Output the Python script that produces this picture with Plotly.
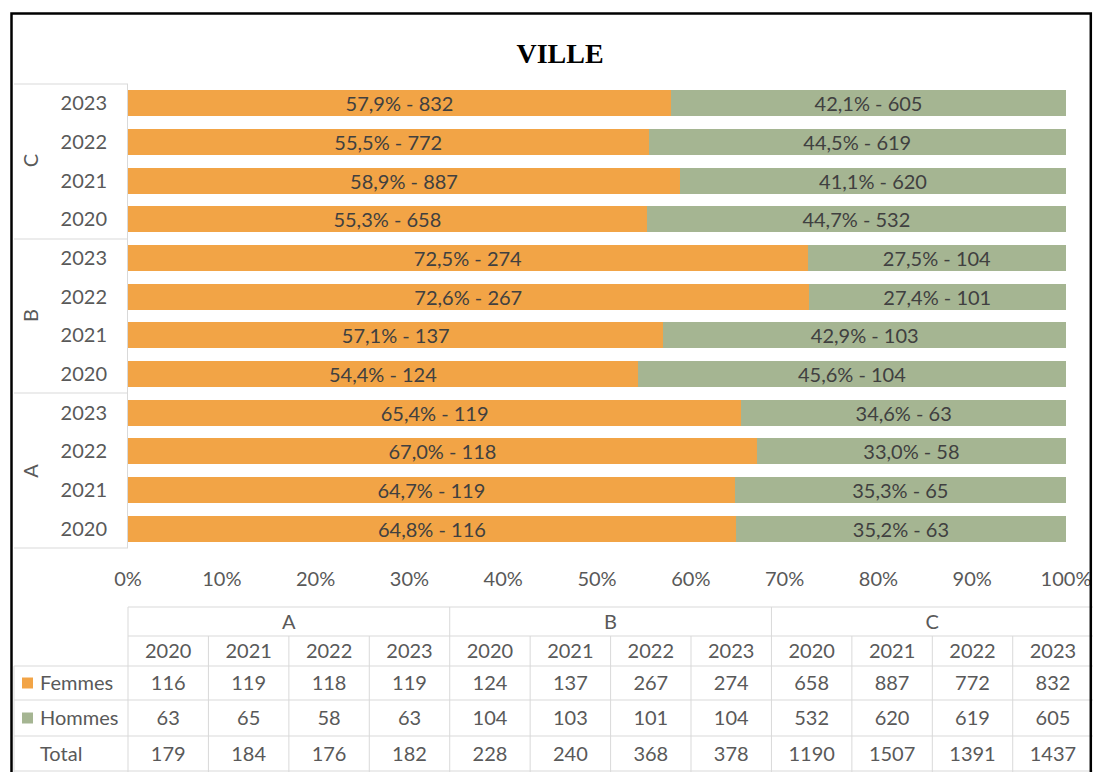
import plotly.graph_objects as go

# ---------------- data ----------------
title_text = "VILLE"
groups = ["A", "B", "C"]
years = ["2020", "2021", "2022", "2023"]
series_names = ["Femmes", "Hommes"]
femmes = [116, 119, 118, 119, 124, 137, 267, 274, 658, 887, 772, 832]
hommes = [63, 65, 58, 63, 104, 103, 101, 104, 532, 620, 619, 605]
total_label = "Total"

# ---------------- style / layout constants ----------------
W, H = 1093, 772
ORANGE = "#F2A446"
GREEN = "#A5B592"
TXT = "#595959"
LBL = "#404040"
GRID = "#D9D9D9"
FONT = "Lato"
FS = 20

def px(x):
    return x / W

def py(y):
    return 1 - y / H

PLOT_L, PLOT_R, PLOT_T, PLOT_B = 128, 1066, 84, 548
LABEL_L = 14
COL_W = 80.43           # table column width in px
TAB_L = 12              # left edge of table subplot (px)
ROW_EDGES = [607, 636, 666, 700, 736, 772]
TEXT_SHIFT = 2          # small vertical nudge of table text (px)

totals = [f + h for f, h in zip(femmes, hommes)]
pf = [f / t for f, t in zip(femmes, totals)]
ph = [h / t for h, t in zip(hommes, totals)]


def lab(p, v):
    return f"{p * 100:.1f}".replace(".", ",") + "% - " + str(v)


n = len(femmes)
ypos = list(range(n))
cat_years = [y for g in groups for y in years]

fig = go.Figure()
for name, vals, shares, col in [("Femmes", femmes, pf, ORANGE), ("Hommes", hommes, ph, GREEN)]:
    fig.add_trace(go.Bar(
        y=ypos, x=shares, orientation="h", name=name,
        marker=dict(color=col, line=dict(width=0)),
        text=[lab(p, v) for p, v in zip(shares, vals)],
        textposition="inside", insidetextanchor="middle", constraintext="none",
        textfont=dict(family=FONT, size=FS, color=LBL),
        hoverinfo="skip", showlegend=False,
        xaxis="x", yaxis="y",
    ))

# ---------------- table (second subplot, column units) ----------------
u_left = (TAB_L - PLOT_L) / COL_W          # left end of x2 range
u_right = (W - PLOT_L) / COL_W
u_label = (LABEL_L - PLOT_L) / COL_W
n_cols = len(groups) * len(years)
row_c = [(ROW_EDGES[i] + ROW_EDGES[i + 1]) / 2 + TEXT_SHIFT for i in range(len(ROW_EDGES) - 1)]

def text_trace(xs, ys, texts, pos="middle center"):
    return go.Scatter(x=xs, y=ys, text=texts, mode="text", textposition=pos,
                      textfont=dict(family=FONT, size=FS, color=TXT),
                      cliponaxis=False, hoverinfo="skip", showlegend=False,
                      xaxis="x2", yaxis="y2")

col_c = [i + 0.5 for i in range(n_cols)]
grp_c = [len(years) * g + len(years) / 2 for g in range(len(groups))]
fig.add_trace(text_trace(grp_c, [row_c[0]] * len(groups), groups))
fig.add_trace(text_trace(col_c, [row_c[1]] * n_cols, cat_years))
fig.add_trace(text_trace(col_c, [row_c[2]] * n_cols, [str(v) for v in femmes]))
fig.add_trace(text_trace(col_c, [row_c[3]] * n_cols, [str(v) for v in hommes]))
fig.add_trace(text_trace(col_c, [row_c[4]] * n_cols, [str(v) for v in totals]))

mark_u = (27.5 - PLOT_L) / COL_W
txt_u = (40 - PLOT_L) / COL_W
fig.add_trace(go.Scatter(x=[mark_u, mark_u], y=[row_c[2] - TEXT_SHIFT, row_c[3] - TEXT_SHIFT],
                         mode="markers",
                         marker=dict(symbol="square", size=11, color=[ORANGE, GREEN]),
                         cliponaxis=False, hoverinfo="skip", showlegend=False,
                         xaxis="x2", yaxis="y2"))
fig.add_trace(text_trace([txt_u] * 3, row_c[2:5], series_names + [total_label], pos="middle right"))

shapes = []
def hline(x0, x1, y, ref=("x2", "y2")):
    shapes.append(dict(type="line", xref=ref[0], yref=ref[1], x0=x0, x1=x1, y0=y, y1=y,
                       line=dict(color=GRID, width=1), layer="below"))

def vline(x, y0, y1, ref=("x2", "y2")):
    shapes.append(dict(type="line", xref=ref[0], yref=ref[1], x0=x, x1=x, y0=y0, y1=y1,
                       line=dict(color=GRID, width=1), layer="below"))

hline(0, u_right, ROW_EDGES[0])
hline(0, u_right, ROW_EDGES[1])
for e in ROW_EDGES[2:5]:
    hline(u_label, u_right, e)
hline(u_label, u_right, ROW_EDGES[5] - 1)
for i in range(n_cols):
    top = ROW_EDGES[0] if i % len(years) == 0 else ROW_EDGES[1]
    vline(i, top, ROW_EDGES[-1])
vline(u_label, ROW_EDGES[2], ROW_EDGES[-1])

# category label box lines (left of plot)
for yy in [PLOT_T, 239, 393, PLOT_B]:
    shapes.append(dict(type="line", xref="paper", yref="paper", x0=px(LABEL_L), x1=px(PLOT_L),
                       y0=py(yy), y1=py(yy), line=dict(color=GRID, width=1), layer="below"))

# black frame
shapes.append(dict(type="rect", xref="paper", yref="paper", x0=px(11.5), x1=px(1090.8),
                   y0=py(13.5), y1=-0.05, line=dict(color="black", width=2.5), layer="above"))

annotations = []
for g, name in enumerate(groups):
    annotations.append(dict(text=name, xref="paper", yref="y", x=px(30), y=len(years) * g + 1.5,
                            xanchor="center", yanchor="middle",
                            showarrow=False, textangle=-90,
                            font=dict(family=FONT, size=FS, color=TXT)))

fig.update_layout(
    width=W, height=H,
    margin=dict(l=0, r=0, t=0, b=0, autoexpand=False),
    paper_bgcolor="white", plot_bgcolor="white",
    barmode="stack", bargap=0.33,
    title=dict(text="<b>" + title_text + "</b>", x=px(560), y=py(53), xanchor="center", yanchor="middle",
               font=dict(family="Liberation Serif", size=28, color="black")),
    xaxis=dict(domain=[px(PLOT_L), px(PLOT_R)], range=[0, 1], dtick=0.1, tickformat=".0%",
               showgrid=False, zeroline=False, showline=False, automargin=False,
               ticks="outside", ticklen=13, tickcolor="rgba(0,0,0,0)",
               tickfont=dict(family=FONT, size=FS, color=TXT), fixedrange=True),
    yaxis=dict(domain=[py(PLOT_B), py(PLOT_T)], range=[-0.5, n - 0.5],
               tickvals=ypos, ticktext=cat_years, automargin=False,
               showgrid=False, zeroline=False, showline=True, linecolor=GRID, linewidth=1,
               ticks="outside", ticklen=16, tickcolor="rgba(0,0,0,0)",
               tickfont=dict(family=FONT, size=FS, color=TXT), fixedrange=True),
    xaxis2=dict(domain=[px(TAB_L), 1], range=[u_left, u_right], visible=False, fixedrange=True),
    yaxis2=dict(domain=[0, py(600)], range=[H, 600], visible=False, fixedrange=True),
    shapes=shapes,
    annotations=annotations,
)

fig.write_html(
    "out.html",
    config={"displayModeBar": False},
    post_script="document.body.style.margin='0';document.body.style.overflow='hidden';",
)
